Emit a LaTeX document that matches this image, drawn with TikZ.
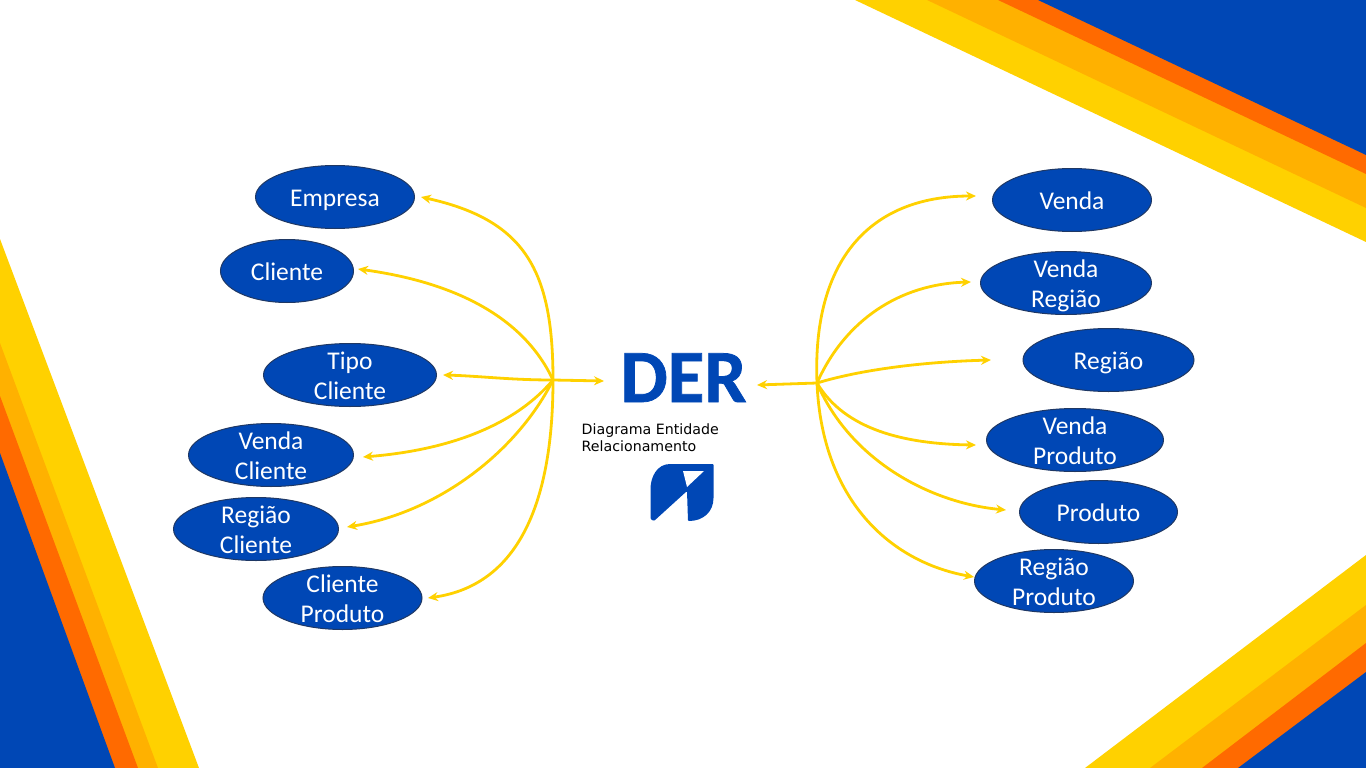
\documentclass[tikz,border=0pt]{standalone}
\usepackage{fontspec}
\setmainfont{Carlito}
\newfontfamily\smallfont{DejaVu Sans}
\newfontfamily\derfont{Carlito}[BoldFeatures={FakeBold=1}]
\usetikzlibrary{arrows.meta,shapes.geometric}
\definecolor{derblue}{HTML}{0047B5}
\definecolor{deryellow}{HTML}{FFD100}
\definecolor{deramber}{HTML}{FFB100}
\definecolor{derorange}{HTML}{FF6A00}
\definecolor{dernavy}{HTML}{1F3864}
\tikzset{
  entity/.style={ellipse,draw=dernavy,line width=1pt,fill=derblue,text=white,inner sep=0pt,
    minimum height=63pt,font=\fontsize{25.5}{30}\selectfont},
  link/.style={draw=deryellow,line width=2.8pt,-{Stealth[length=10pt,width=9pt]}},
}
\newcommand{\ent}[6]{\node[entity,minimum width=#4pt] (#1) at (#2,#3) {\makebox[0pt]{\raisebox{6pt}[0pt][0pt]{#5}}\makebox[0pt]{\raisebox{-24pt}[0pt][0pt]{#6}}};}
\newcommand{\entone}[5]{\node[entity,minimum width=#4pt] (#1) at (#2,#3) {\makebox[0pt]{\raisebox{-9pt}[0pt][0pt]{#5}}};}
\begin{document}
\begin{tikzpicture}[x=1pt,y=-1pt]
\useasboundingbox (0,0) rectangle (1366,768);
% corners
\fill[deryellow] (855,0) -- (1366,0) -- (1366,242) -- cycle;
\fill[deramber] (927,0) -- (1366,0) -- (1366,208) -- cycle;
\fill[derorange] (998,0) -- (1366,0) -- (1366,174) -- cycle;
\fill[derblue] (1038,0) -- (1366,0) -- (1366,155) -- cycle;
\fill[deryellow] (0,239) -- (199,768) -- (0,768) -- cycle;
\fill[deramber] (0,343) -- (158,768) -- (0,768) -- cycle;
\fill[derorange] (0,396) -- (138,768) -- (0,768) -- cycle;
\fill[derblue] (0,453) -- (115,768) -- (0,768) -- cycle;
\fill[deryellow] (1085,768) -- (1366,555) -- (1366,768) -- cycle;
\fill[deramber] (1150,768) -- (1366,605) -- (1366,768) -- cycle;
\fill[derorange] (1202,768) -- (1366,643) -- (1366,768) -- cycle;
\fill[derblue] (1238,768) -- (1366,672) -- (1366,768) -- cycle;
% entities
\entone{empresa}{335}{197}{159}{Empresa}
\entone{cliente}{287}{271}{133}{Cliente}
\ent{tipo}{350}{375}{173}{Tipo}{Cliente}
\ent{vcli}{271}{455}{165}{Venda}{Cliente}
\ent{rcli}{256}{529}{165}{Região}{Cliente}
\ent{cprod}{342.5}{598}{159}{Cliente}{Produto}
\entone{venda}{1072}{200}{159}{Venda}
\ent{vreg}{1066}{283}{171}{Venda}{Região}
\entone{regiao}{1108.5}{360}{171}{Região}
\ent{vprod}{1075}{440}{177}{Venda}{Produto}
\entone{produto}{1098.5}{512}{158}{Produto}
\ent{rprod}{1054}{581}{159}{Região}{Produto}
% centre
\node[font=\fontsize{75}{75}\derfont\bfseries\selectfont,text=derblue,inner sep=0pt,anchor=base] (der) at (683.5,402) {DER};
\node[font=\fontsize{14.2}{17}\smallfont\selectfont,align=left,anchor=north west,inner sep=0pt] (sub) at (581.5,423.5) {Diagrama Entidade\\Relacionamento};
\fill[derblue,rounded corners=1pt] (713.5,464) -- (671,464) .. controls (657,464) and (650.5,477) .. (650.5,490) -- (650.5,519) -- (654,521) -- (687,491) -- (688,521) .. controls (703,521) and (713.5,512) .. (713.5,497) -- cycle;
\fill[white] (683,471) -- (704,471) -- (687,487) -- cycle;
% hubs and free ends
\coordinate (hubL) at (553,380);
\coordinate (hubR) at (817,383);
\coordinate (eEmpresa) at (421,197);
\coordinate (eCliente) at (358,269);
\coordinate (eTipo) at (443,375);
\coordinate (eVcli) at (363,457);
\coordinate (eRcli) at (347,527);
\coordinate (eCprod) at (428,598);
\coordinate (eDerL) at (604,381);
\coordinate (eDerR) at (757,385);
\coordinate (eVenda) at (976,196);
\coordinate (eVreg) at (971,282);
\coordinate (eRegiao) at (991,360);
\coordinate (eVprod) at (976,445);
\coordinate (eProduto) at (1006,510);
\coordinate (eRprod) at (974,577);
% connectors
\draw[link] (hubL) .. controls (553,270) and (525,220) .. (eEmpresa);
\draw[link] (hubL) .. controls (525,320) and (460,283) .. (eCliente);
\draw[link] (hubL) .. controls (510,380) and (480,376) .. (eTipo);
\draw[link] (hubL) .. controls (515,425) and (450,450) .. (eVcli);
\draw[link] (hubL) .. controls (518,450) and (440,512) .. (eRcli);
\draw[link] (hubL) .. controls (553,500) and (520,585) .. (eCprod);
\draw[link] (hubL) -- (eDerL);
\draw[link] (hubR) -- (eDerR);
\draw[link] (hubR) .. controls (812,260) and (870,196) .. (eVenda);
\draw[link] (hubR) .. controls (845,320) and (900,284) .. (eVreg);
\draw[link] (hubR) .. controls (860,370) and (920,362) .. (eRegiao);
\draw[link] (hubR) .. controls (845,430) and (905,444) .. (eVprod);
\draw[link] (hubR) .. controls (850,460) and (930,503) .. (eProduto);
\draw[link] (hubR) .. controls (822,500) and (890,562) .. (eRprod);
\end{tikzpicture}
\end{document}
